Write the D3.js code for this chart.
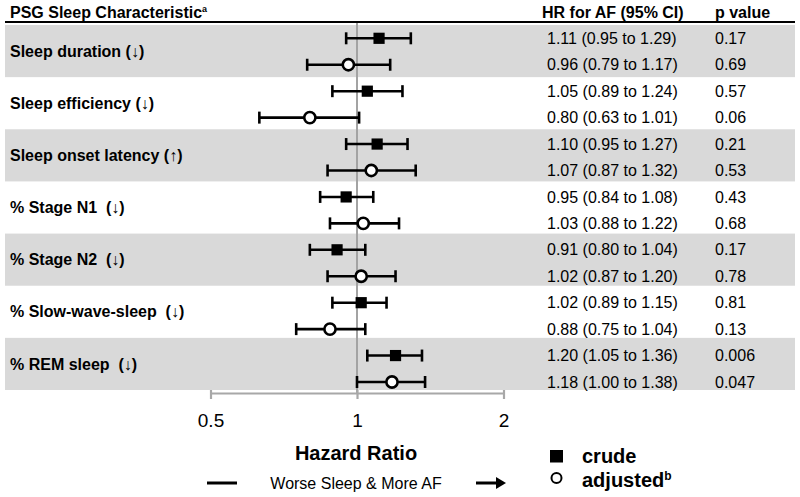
<!DOCTYPE html>
<html>
<head>
<meta charset="utf-8">
<script src="https://cdn.jsdelivr.net/npm/d3@7"></script>
<style>
  html, body { margin: 0; padding: 0; background: #fff; }
  svg { display: block; font-family: "Liberation Sans", Arial, Helvetica, sans-serif; }
  text { white-space: pre; }
</style>
</head>
<body>
<svg id="chart" width="800" height="497"></svg>
<script>
// ---- data ----
const characteristics = ["Sleep duration (\u2193)", "Sleep efficiency (\u2193)", "Sleep onset latency (\u2191)",
  "% Stage N1  (\u2193)", "% Stage N2  (\u2193)", "% Slow-wave-sleep  (\u2193)", "% REM sleep  (\u2193)"];
const crudeHR = [1.11, 1.05, 1.10, 0.95, 0.91, 1.02, 1.20];
const crudeLo = [0.95, 0.89, 0.95, 0.84, 0.80, 0.89, 1.05];
const crudeHi = [1.29, 1.24, 1.27, 1.08, 1.04, 1.15, 1.36];
const crudeP  = ["0.17", "0.57", "0.21", "0.43", "0.17", "0.81", "0.006"];
const adjHR = [0.96, 0.80, 1.07, 1.03, 1.02, 0.88, 1.18];
const adjLo = [0.79, 0.63, 0.87, 0.88, 0.87, 0.75, 1.00];
const adjHi = [1.17, 1.01, 1.32, 1.22, 1.20, 1.04, 1.38];
const adjP  = ["0.69", "0.06", "0.53", "0.68", "0.78", "0.13", "0.047"];
const tickValues = [0.5, 1, 2];
const tickLabels = ["0.5", "1", "2"];

// ---- rows ----
const rows = [];
characteristics.forEach((c, i) => {
  rows.push({ idx: i * 2, group: i, type: "crude", hr: crudeHR[i], lo: crudeLo[i], hi: crudeHi[i], p: crudeP[i] });
  rows.push({ idx: i * 2 + 1, group: i, type: "adjusted", hr: adjHR[i], lo: adjLo[i], hi: adjHi[i], p: adjP[i] });
});

const svg = d3.select("#chart");
const x = d3.scaleLog().domain([0.5, 2]).range([210.5, 503.5]);
const band = d3.scaleBand().domain(d3.range(characteristics.length)).range([25, 390]);
const y = d3.scalePoint().domain(d3.range(rows.length)).range([38.3, 382]);
const axisY = 393;

// bands
svg.append("g").selectAll("rect")
  .data(characteristics.map((c, i) => i).filter(i => i % 2 === 0))
  .join("rect")
  .attr("x", 5).attr("width", 790)
  .attr("y", d => band(d)).attr("height", band.bandwidth())
  .attr("fill", "#d9d9d9");

// header
const hdr = svg.append("g").attr("font-weight", "bold").attr("font-size", 16).attr("fill", "#000");
const t1 = hdr.append("text").attr("x", 10).attr("y", 18);
t1.append("tspan").text("PSG Sleep Characteristic");
t1.append("tspan").attr("font-size", 9).attr("dy", -6).text("a");
hdr.append("text").attr("x", 542).attr("y", 18).text("HR for AF (95% CI)");
hdr.append("text").attr("x", 715).attr("y", 18).text("p value");
svg.append("line").attr("x1", 5).attr("x2", 795).attr("y1", 22).attr("y2", 22)
  .attr("stroke", "#000").attr("stroke-width", 2.2);

// labels
svg.append("g").selectAll("text")
  .data(characteristics)
  .join("text")
  .attr("x", 10)
  .attr("y", (d, i) => band(i) + band.bandwidth() / 2)
  .attr("dy", "0.35em")
  .attr("font-size", 16).attr("font-weight", "bold")
  .text(d => d);

// reference line
svg.append("line").attr("x1", x(1)).attr("x2", x(1)).attr("y1", 23).attr("y2", axisY)
  .attr("stroke", "#a3a3a3").attr("stroke-width", 2);

// axis
const axis = svg.append("g").attr("transform", `translate(0,${axisY})`)
  .call(d3.axisBottom(x).tickValues(tickValues).tickFormat((d, i) => tickLabels[i]).tickSizeOuter(0).tickSizeInner(6));
axis.select(".domain").attr("stroke", "#a8a8a8").attr("stroke-width", 2.2);
axis.selectAll(".tick line").attr("y1", -3).attr("y2", 6).attr("stroke", "#a8a8a8").attr("stroke-width", 2.2);
axis.selectAll(".tick text").attr("y", 27).attr("dy", "0.35em")
  .attr("font-size", 19).attr("fill", "#000")
  .attr("font-family", "'Liberation Sans', Arial, sans-serif");

// error bars
const eb = svg.append("g").selectAll("g").data(rows).join("g");
eb.append("line")
  .attr("x1", d => x(d.lo)).attr("x2", d => x(d.hi))
  .attr("y1", d => y(d.idx)).attr("y2", d => y(d.idx))
  .attr("stroke", "#000").attr("stroke-width", 2.6);
eb.append("line")
  .attr("x1", d => x(d.lo)).attr("x2", d => x(d.lo))
  .attr("y1", d => y(d.idx) - 6).attr("y2", d => y(d.idx) + 6)
  .attr("stroke", "#000").attr("stroke-width", 2.6);
eb.append("line")
  .attr("x1", d => x(d.hi)).attr("x2", d => x(d.hi))
  .attr("y1", d => y(d.idx) - 6).attr("y2", d => y(d.idx) + 6)
  .attr("stroke", "#000").attr("stroke-width", 2.6);

// markers
eb.filter(d => d.type === "crude").append("rect")
  .attr("x", d => x(d.hr) - 5.6).attr("y", d => y(d.idx) - 5.6)
  .attr("width", 11.2).attr("height", 11.2).attr("fill", "#000");
eb.filter(d => d.type === "adjusted").append("circle")
  .attr("cx", d => x(d.hr)).attr("cy", d => y(d.idx)).attr("r", 5.6)
  .attr("fill", "#fff").attr("stroke", "#000").attr("stroke-width", 2.6);

// value columns
const vals = svg.append("g").attr("font-size", 16).attr("fill", "#000");
vals.selectAll("text.ci").data(rows).join("text").attr("class", "ci")
  .attr("x", 547).attr("y", d => y(d.idx)).attr("dy", "0.35em")
  .text(d => `${d.hr.toFixed(2)} (${d.lo.toFixed(2)} to ${d.hi.toFixed(2)})`);
vals.selectAll("text.pv").data(rows).join("text").attr("class", "pv")
  .attr("x", 715).attr("y", d => y(d.idx)).attr("dy", "0.35em")
  .text(d => d.p);

// axis title
svg.append("text").attr("x", x(1) - 1).attr("y", 453).attr("dy", "0.35em")
  .attr("text-anchor", "middle").attr("font-size", 20).attr("font-weight", "bold")
  .text("Hazard Ratio");

// direction line
svg.append("text").attr("x", x(1) - 1).attr("y", 483).attr("dy", "0.35em")
  .attr("text-anchor", "middle").attr("font-size", 16)
  .text("Worse Sleep & More AF");
svg.append("line").attr("x1", 207).attr("x2", 237).attr("y1", 483).attr("y2", 483)
  .attr("stroke", "#000").attr("stroke-width", 3);
svg.append("line").attr("x1", 476).attr("x2", 498).attr("y1", 483).attr("y2", 483)
  .attr("stroke", "#000").attr("stroke-width", 3);
svg.append("path").attr("d", "M496,477 L506,483 L496,489 Z").attr("fill", "#000");

// legend
const leg = svg.append("g");
leg.append("rect").attr("x", 550).attr("y", 450).attr("width", 13).attr("height", 12.5).attr("fill", "#000");
leg.append("text").attr("x", 582).attr("y", 456).attr("dy", "0.35em")
  .attr("font-size", 20).attr("font-weight", "bold").text("crude");
leg.append("circle").attr("cx", 556.5).attr("cy", 478).attr("r", 5).attr("fill", "#fff")
  .attr("stroke", "#000").attr("stroke-width", 2);
const adjT = leg.append("text").attr("x", 582).attr("y", 480).attr("dy", "0.35em")
  .attr("font-size", 20).attr("font-weight", "bold");
adjT.append("tspan").text("adjusted");
adjT.append("tspan").attr("font-size", 12).attr("dy", -7).text("b");
</script>
</body>
</html>
